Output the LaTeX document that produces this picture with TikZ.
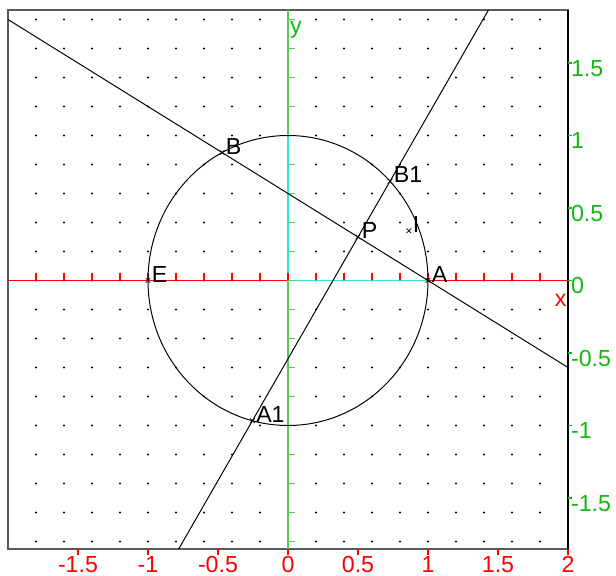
\documentclass[tikz,border=0pt]{standalone}
\usepackage{fontspec}
\setmainfont{Liberation Sans}
\usetikzlibrary{shapes.misc}
\definecolor{geVermelho}{HTML}{FF0000}
\definecolor{geVerde}{HTML}{10B810}
\definecolor{geVerdeEixo}{HTML}{5AC85A}
\definecolor{geCiano}{HTML}{2EE6D2}
\definecolor{geCinza}{HTML}{5A5A5A}

\begin{document}
\begin{tikzpicture}[x=3.5cm, y=3.625cm, font=\fontsize{16.5}{18}\selectfont]
  \tikzset{
    eixo/.style={line width=1.3pt},
    cruz/.style={cross out, draw, line width=0.5pt, minimum size=0.1cm, inner sep=0pt},
    rot/.style={anchor=base west, inner sep=0pt, xshift=0.09cm, yshift=-0.04cm},
    nry/.style={anchor=north west, inner sep=0pt, xshift=0.07cm, yshift=0.08cm, text=geVerde},
    nrx/.style={anchor=north, inner sep=0pt, yshift=-0.17cm, text=geVermelho}}
  \useasboundingbox (-2.05714,-2.03793) rectangle (2.34286,1.93448);
  \foreach \i in {-9,...,9}
    \foreach \j in {-9,...,9}
      \fill (\i*0.2,\j*0.2) circle [radius=0.75pt];
  \coordinate (so) at (-2,-1.85172);
  \coordinate (ne) at (2,1.86552);
  \coordinate (se) at (2,-1.85172);
  \draw[geCinza, line width=1.2pt] (so) rectangle (ne);
  \draw[line width=0.8pt] (se) -- (ne);
  \coordinate (O) at (0,0);
  \coordinate (xa) at (-2,0);
  \coordinate (xb) at (2,0);
  \coordinate (ya) at (0,-1.85172);
  \coordinate (yb) at (0,1.86552);
  \draw[eixo, geVermelho] (xa) -- (xb);
  \draw[eixo, geVerdeEixo] (ya) -- (yb);
  \draw[eixo, geCiano] (O) -- (1,0);
  \draw[eixo, geCiano] (O) -- (0,1);
  \foreach \i in {-9,...,9}{
    \draw[geVermelho, line width=1pt] (\i*0.2,0) -- ++(0,0.18cm);
    \draw[geVerdeEixo, line width=1pt] (0,\i*0.2) -- ++(0.17cm,0);}
  \foreach \v in {1.5,1,0.5,0,-0.5,-1,-1.5}{
    \draw[geVerde, line width=0.8pt] (2,\v) -- ++(0.1cm,0);
    \node[nry] (ny\v) at (2,\v) {\v};}
  \foreach \v in {-1.5,-1,-0.5,0,0.5,1,1.5,2}{
    \draw[geVermelho, line width=0.8pt] (\v,-1.85172) -- ++(0,-0.15cm);
    \node[nrx] (nx\v) at (\v,-1.85172) {\v};}
  \node[anchor=base west, inner sep=0pt, text=geVerde] (ly) at (0.014,1.7028) {y};
  \node[anchor=base west, inner sep=0pt, text=geVermelho] (lx) at (1.905,-0.176) {x};
  \draw[line width=0.7pt] (O) ellipse [x radius=3.5cm, y radius=3.625cm];
  \coordinate (A) at (1,0);
  \coordinate (E) at (-1,0);
  \coordinate (B) at (-0.4706,0.8824);
  \coordinate (P) at (0.5,0.3);
  \coordinate (B1) at (0.7289,0.6846);
  \coordinate (A1) at (-0.2543,-0.9672);
  \coordinate (I) at (0.864,0.343);
  \coordinate (r1) at (-2,1.8);
  \coordinate (r2) at (2,-0.6);
  \coordinate (s1) at (-0.78079,-1.85172);
  \coordinate (s2) at (1.43186,1.86552);
  \draw[line width=0.7pt] (r1) -- (B) -- (P) -- (A) -- (r2);
  \draw[line width=0.7pt] (s1) -- (A1) -- (P) -- (B1) -- (s2);
  \foreach \p in {A,E,B,P,B1,A1,I}{
    \node[cruz] (c\p) at (\p) {};
    \node[rot] (l\p) at (\p) {\p};}
\end{tikzpicture}
\end{document}
